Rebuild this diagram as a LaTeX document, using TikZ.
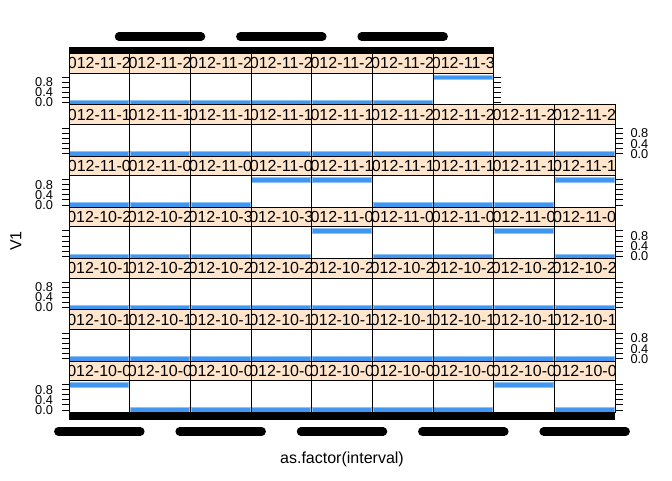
\documentclass[tikz,border=0pt]{standalone}
\usepackage{fontspec}
\setmainfont{Liberation Sans}
\usepackage{tikz}

\definecolor{stripbg}{HTML}{FFE5CC}
\definecolor{barblue}{HTML}{3F97F2}
\definecolor{baredge}{HTML}{8FC3F7}

\newcommand{\colw}{60.667}
\newcommand{\rowh}{51.25}
\newcommand{\striph}{19.5}
\newcommand{\xorg}{69}
\newcommand{\yorg}{53.5}

\begin{document}
\begin{tikzpicture}[x=1pt,y=-1pt,line width=1pt]
  \tikzstyle{strip box}=[draw=black,line width=1pt]
  \tikzstyle{strip text}=[font=\fontsize{16}{19}\selectfont,inner sep=0pt]
  \tikzstyle{tick label}=[font=\fontsize{12.8}{15}\selectfont,inner sep=0pt]
  \tikzstyle{axis title}=[font=\fontsize{16}{19}\selectfont,inner sep=0pt]
  \tikzstyle{value bar}=[fill=barblue,draw=baredge,line width=0.8pt]
  \tikzstyle{label blob}=[line width=8.5pt,line cap=round]

  \useasboundingbox (0,0) rectangle (672,480);

  % panels, bottom row starts at 2012-10-01
  \foreach \rw in {0,...,6}{
    \foreach \cl in {0,...,8}{
      \pgfmathtruncatemacro{\idx}{(6-\rw)*9+\cl}
      \ifnum\idx<61
        \pgfmathtruncatemacro{\na}{{1,0,0,0,0,0,0,1,0,
          0,0,0,0,0,0,0,0,0, 0,0,0,0,0,0,0,0,0,
          0,0,0,0,1,0,0,1,0, 0,0,0,1,1,0,0,0,1,
          0,0,0,0,0,0,0,0,0, 0,0,0,0,0,0,1}[\idx]}
        \ifnum\idx<31
          \def\mon{10}\pgfmathtruncatemacro{\dd}{\idx+1}
        \else
          \def\mon{11}\pgfmathtruncatemacro{\dd}{\idx-30}
        \fi
        \edef\lab{2012-\mon-\ifnum\dd<10 0\fi\dd}
        \pgfmathsetmacro{\xa}{\xorg+\cl*\colw}
        \pgfmathsetmacro{\xb}{\xa+\colw}
        \pgfmathsetmacro{\ya}{\yorg+\rw*\rowh}
        \pgfmathsetmacro{\ym}{\ya+\striph}
        \pgfmathsetmacro{\yb}{\ya+\rowh}
        \pgfmathsetmacro{\yv}{\na==1 ? \ym+4.2 : \yb-2.2}
        \fill[white] (\xa,\ym) rectangle (\xb,\yb);
        \draw[value bar] (\xa+0.8,\yv-2.2) rectangle (\xb-0.8,\yv+2.2);
        \draw (\xa,\ym) rectangle (\xb,\yb);
        \fill[stripbg] (\xa,\ya) rectangle (\xb,\ym);
        \begin{scope}
          \clip (\xa,\ya) rectangle (\xb,\ym);
          \node[strip text] (s_\rw_\cl) at (\xa+0.5*\colw,\ya+0.5*\striph)
            {\makebox[56pt][c]{\lab}};
        \end{scope}
        \draw[strip box] (\xa,\ya) rectangle (\xb,\ym);
      \fi
    }
  }

  % y ticks
  \foreach \rw in {0,...,6}{
    \pgfmathsetmacro{\yb}{\yorg+\rw*\rowh+\rowh}
    \pgfmathsetmacro{\xr}{\rw==0 ? \xorg+7*\colw : \xorg+9*\colw}
    \foreach \t in {0,0.2,0.4,0.6,0.8,1}{
      \draw (\xorg,\yb-2.2-25.35*\t) -- ++(-7.5,0);
      \draw (\xr,\yb-2.2-25.35*\t) -- ++(7.5,0);
    }
  }
  \foreach \rw in {0,2,4,6}{
    \pgfmathsetmacro{\yb}{\yorg+\rw*\rowh+\rowh}
    \foreach \t/\tl [count=\n] in {0/0.0,0.4/0.4,0.8/0.8}
      \node[tick label,anchor=east] (yl_\rw_\n) at (\xorg-15.5,\yb-2.2-25.35*\t) {\tl};
  }
  \foreach \rw in {1,3,5}{
    \pgfmathsetmacro{\yb}{\yorg+\rw*\rowh+\rowh}
    \foreach \t/\tl [count=\n] in {0/0.0,0.4/0.4,0.8/0.8}
      \node[tick label,anchor=west] (yr_\rw_\n) at (\xorg+9*\colw+15,\yb-2.2-25.35*\t) {\tl};
  }

  % x ticks, one per interval, packed solid
  \fill (\xorg,\yorg-7) rectangle (\xorg+7*\colw,\yorg);
  \fill (\xorg,\yorg+7*\rowh) rectangle (\xorg+9*\colw,\yorg+7*\rowh+7.5);

  % overlapping interval labels
  \foreach \cl in {1,3,5}
    \draw[label blob] (\xorg+\cl*\colw+0.5*\colw-41,36.7) -- ++(82,0);
  \foreach \cl in {0,2,...,8}
    \draw[label blob] (\xorg+\cl*\colw+0.5*\colw-41,431.5) -- ++(82,0);

  \node[axis title,rotate=90] (ylab) at (15.8,241) {V1};
  \node[axis title] (xlab) at (342,459.5) {as.factor(interval)};
\end{tikzpicture}
\end{document}
